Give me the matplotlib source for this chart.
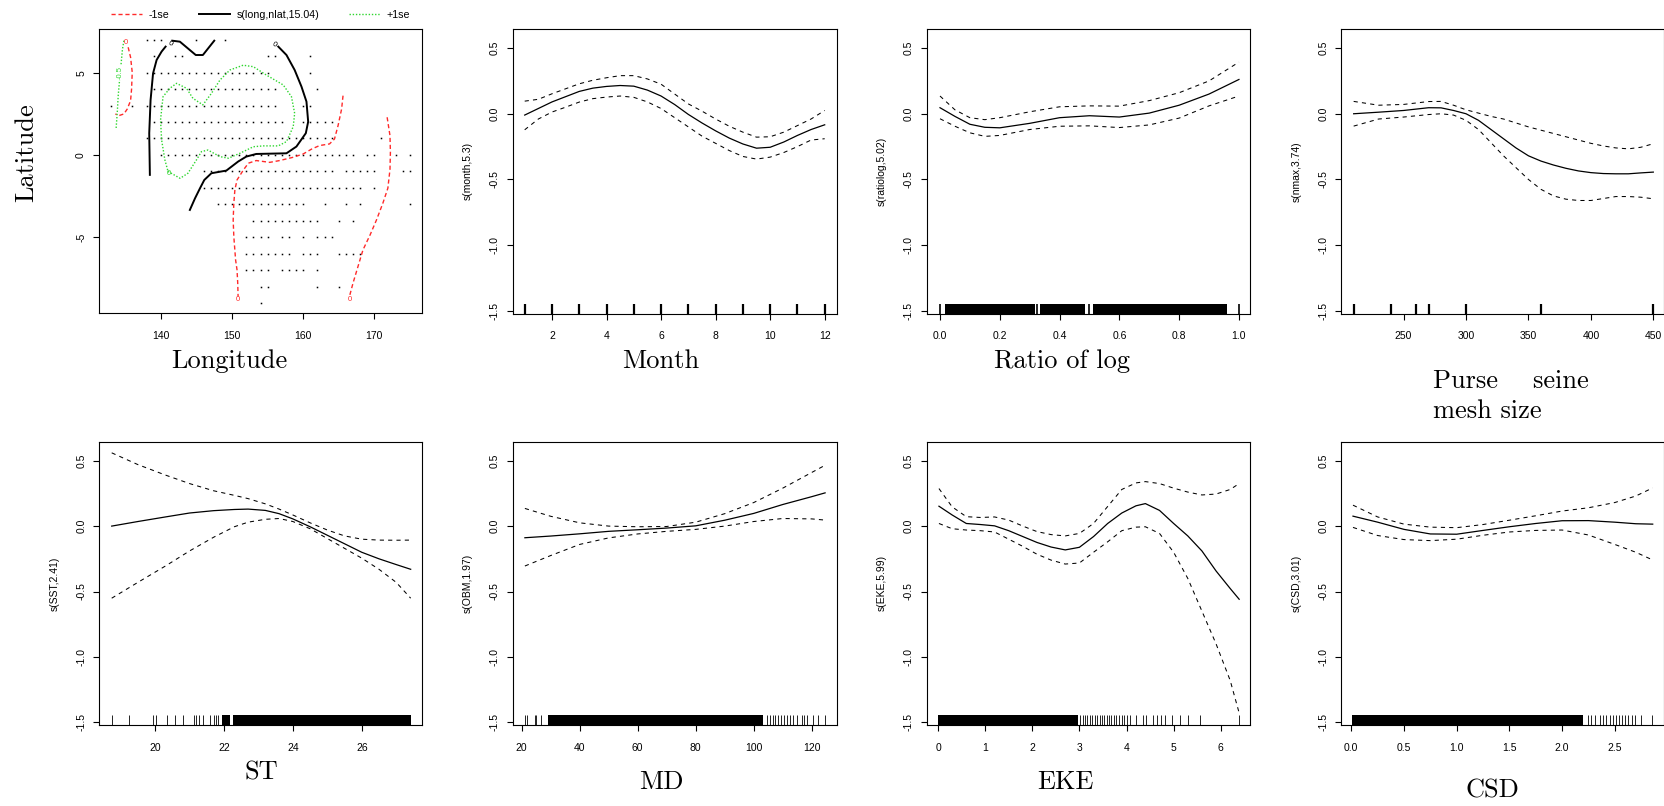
import matplotlib
matplotlib.use("Agg")
import matplotlib.pyplot as plt
from matplotlib.lines import Line2D

plt.rcParams["font.family"] = ["Liberation Sans", "DejaVu Sans"]
plt.rcParams["axes.unicode_minus"] = False

BIG = ["cmr10", "DejaVu Serif"]   # LaTeX-looking labels

# ---------------- smooth terms: x, fit, +1se, -1se ----------------
month_x = [1, 1.5, 2, 2.5, 3, 3.5, 4, 4.5, 5, 5.5, 6, 6.5, 7, 7.5, 8, 8.5, 9, 9.5, 10, 10.5, 11, 11.5, 12]
month_fit = [-0.01, 0.04, 0.09, 0.13, 0.17, 0.195, 0.208, 0.215, 0.21, 0.18, 0.135, 0.07, -0.005, -0.07,
             -0.13, -0.185, -0.23, -0.262, -0.255, -0.215, -0.165, -0.12, -0.084]
month_hi = [0.096, 0.11, 0.152, 0.19, 0.228, 0.255, 0.274, 0.29, 0.29, 0.265, 0.225, 0.15, 0.075, 0.02,
            -0.04, -0.095, -0.14, -0.178, -0.175, -0.14, -0.09, -0.04, 0.025]
month_lo = [-0.122, -0.04, 0.013, 0.05, 0.089, 0.115, 0.127, 0.135, 0.125, 0.09, 0.04, -0.03, -0.10, -0.17,
            -0.225, -0.28, -0.325, -0.345, -0.33, -0.295, -0.25, -0.2, -0.19]
month_rug = [1, 2, 3, 4, 5, 6, 7, 8, 9, 10, 11, 12]

ratio_x = [0, 0.05, 0.1, 0.15, 0.2, 0.3, 0.4, 0.5, 0.6, 0.7, 0.8, 0.9, 1.0]
ratio_fit = [0.046, -0.02, -0.08, -0.103, -0.107, -0.073, -0.03, -0.015, -0.025, 0.005, 0.065, 0.15, 0.261]
ratio_hi = [0.135, 0.03, -0.03, -0.045, -0.03, 0.015, 0.053, 0.06, 0.058, 0.1, 0.16, 0.25, 0.393]
ratio_lo = [-0.038, -0.095, -0.145, -0.172, -0.165, -0.12, -0.095, -0.092, -0.105, -0.085, -0.033, 0.06, 0.135]
ratio_rug = [0.0, 0.326, 0.499, 1.0]
ratio_rug_dense = [(0.017, 0.318), (0.334, 0.484), (0.513, 0.959)]

nmax_x = [210, 230, 250, 270, 280, 290, 300, 310, 320, 330, 340, 350, 360, 370, 380, 390, 400, 410, 420, 430, 440, 450]
nmax_fit = [0.0, 0.012, 0.025, 0.046, 0.045, 0.025, 0.0, -0.05, -0.12, -0.19, -0.26, -0.32, -0.36, -0.39,
            -0.415, -0.435, -0.448, -0.455, -0.457, -0.457, -0.45, -0.444]
nmax_hi = [0.094, 0.065, 0.071, 0.093, 0.094, 0.065, 0.03, 0.005, -0.02, -0.04, -0.07, -0.1, -0.125, -0.15,
           -0.175, -0.2, -0.225, -0.245, -0.26, -0.267, -0.255, -0.228]
nmax_lo = [-0.094, -0.04, -0.025, -0.006, 0.0, -0.01, -0.05, -0.12, -0.22, -0.32, -0.41, -0.5, -0.575, -0.625,
           -0.65, -0.66, -0.66, -0.645, -0.63, -0.63, -0.635, -0.647]
nmax_rug = [210, 240, 260, 270, 300, 360, 450]

sst_x = [18.74, 19.5, 20.3, 21, 21.7, 22.3, 22.7, 23.2, 23.6, 24, 24.5, 25, 25.5, 26, 26.5, 27, 27.42]
sst_fit = [0.0, 0.035, 0.07, 0.1, 0.118, 0.127, 0.13, 0.12, 0.095, 0.055, -0.005, -0.07, -0.135, -0.2, -0.25, -0.294, -0.33]
sst_hi = [0.56, 0.47, 0.39, 0.325, 0.27, 0.235, 0.21, 0.17, 0.13, 0.085, 0.025, -0.03, -0.075, -0.1, -0.107, -0.108, -0.107]
sst_lo = [-0.551, -0.43, -0.305, -0.19, -0.085, -0.005, 0.03, 0.052, 0.058, 0.035, -0.02, -0.095, -0.17, -0.245, -0.33, -0.43, -0.551]
sst_rug = [18.74, 19.23, 19.93, 20.03, 20.34, 20.58, 20.82, 21.13, 21.2, 21.28, 21.4, 21.6, 21.7, 21.77, 21.84]
sst_rug_dense = [(21.93, 22.17), (22.27, 27.42)]

md_x = [21.1, 30, 40, 50, 60, 70, 80, 90, 100, 110, 120, 124.6]
md_fit = [-0.089, -0.076, -0.059, -0.04, -0.028, -0.015, 0.002, 0.045, 0.097, 0.165, 0.225, 0.254]
md_hi = [0.135, 0.075, 0.025, 0.0, -0.005, -0.003, 0.03, 0.095, 0.18, 0.29, 0.41, 0.465]
md_lo = [-0.305, -0.225, -0.14, -0.09, -0.06, -0.04, -0.025, 0.0, 0.035, 0.058, 0.055, 0.046]
md_rug = [21.1, 21.9, 24.5, 25.1, 26.8, 104.5, 105.5, 106.5, 107.3, 108.2, 109.5, 110.5, 111.5, 112.5,
          113.7, 114.8, 116.5, 117.2, 118.3, 120.6, 122.3, 124.6]
md_rug_dense = [(29.1, 103.3)]

eke_x = [0.02, 0.3, 0.6, 0.9, 1.2, 1.5, 1.8, 2.1, 2.4, 2.7, 3.0, 3.3, 3.6, 3.9, 4.2, 4.4, 4.7, 5.0, 5.3, 5.6, 5.9, 6.2, 6.39]
eke_fit = [0.152, 0.085, 0.02, 0.012, 0.002, -0.035, -0.08, -0.125, -0.16, -0.182, -0.162, -0.08, 0.02, 0.1,
           0.155, 0.172, 0.12, 0.02, -0.075, -0.19, -0.343, -0.477, -0.559]
eke_hi = [0.287, 0.147, 0.072, 0.066, 0.07, 0.046, 0.0, -0.042, -0.065, -0.075, -0.056, 0.02, 0.15, 0.28,
          0.33, 0.34, 0.325, 0.29, 0.26, 0.238, 0.245, 0.28, 0.325]
eke_lo = [0.02, -0.02, -0.03, -0.035, -0.045, -0.1, -0.155, -0.215, -0.26, -0.29, -0.282, -0.2, -0.12, -0.035,
          -0.008, -0.005, -0.056, -0.2, -0.4, -0.65, -0.9, -1.18, -1.428]
eke_rug = [3.02, 3.07, 3.12, 3.17, 3.22, 3.27, 3.33, 3.38, 3.43, 3.48, 3.53, 3.58, 3.63, 3.68, 3.73,
           3.78, 3.84, 3.9, 3.95, 4.0, 4.07, 4.21, 4.34, 4.42, 4.57, 4.64, 4.74, 4.81, 4.96, 5.13,
           5.31, 5.56, 6.39]
eke_rug_dense = [(0.0, 2.97)]

csd_x = [0.016, 0.25, 0.5, 0.75, 1.0, 1.25, 1.5, 1.75, 2.0, 2.25, 2.5, 2.7, 2.86]
csd_fit = [0.076, 0.03, -0.025, -0.06, -0.062, -0.033, -0.005, 0.02, 0.041, 0.042, 0.03, 0.018, 0.015]
csd_hi = [0.16, 0.07, 0.015, -0.008, -0.012, 0.012, 0.045, 0.079, 0.115, 0.14, 0.18, 0.23, 0.292]
csd_lo = [-0.01, -0.072, -0.103, -0.111, -0.1, -0.07, -0.045, -0.033, -0.03, -0.068, -0.14, -0.2, -0.259]
csd_rug = [2.246, 2.278, 2.31, 2.358, 2.389, 2.42, 2.45, 2.483, 2.515, 2.54, 2.573, 2.595, 2.627,
           2.66, 2.69, 2.753, 2.857]
csd_rug_dense = [(0.01, 2.2)]

# ---------------- spatial term: sampling grid and contour lines ----------------
dot_rows = {
    7: [138, 139, 140, 145, 149],
    6: [139, 142, 143, 155, 156, 161],
    5: list(range(138, 156)) + [161],
    4: list(range(139, 157)) + [162],
    3: [133, 136] + list(range(138, 157)) + [160, 161],
    2: list(range(139, 158)) + [160, 161, 162, 163, 164],
    1: list(range(138, 165)) + [171],
    0: list(range(140, 168)) + [169, 170, 173, 175],
    -1: list(range(146, 165)) + [166, 167, 168, 169, 170, 174, 175],
    -2: list(range(146, 169)) + [170],
    -3: list(range(148, 161)) + [163, 166, 168, 175],
    -4: list(range(153, 163)) + [165, 167],
    -5: [152, 153, 154, 155, 157, 158, 160, 162, 163, 164],
    -6: [152, 153, 154, 155, 156, 157, 158, 160, 161, 162, 165, 166, 167, 168],
    -7: [152, 153, 154, 155, 157, 158, 159, 160, 162],
    -8: [154, 155, 162, 165],
    -9: [154],
}

fit_a_lon = [138.45, 138.36, 138.55, 138.9, 139.4, 140.1, 140.66]
fit_a_lat = [-1.21, 1.32, 3.34, 4.96, 5.77, 6.28, 6.58]
fit_b_lon = [141.6, 142.67, 144.9, 145.9, 147.5]
fit_b_lat = [6.94, 6.88, 6.07, 6.07, 6.94]
fit_c_lon = [156.5, 157.65, 158.8, 159.76, 160.46, 160.7, 160.37, 159.05, 157.65, 153.4, 152.0, 150.86,
             149.2, 147.1, 146.1, 145.5, 144.8, 144.07]
fit_c_lat = [6.58, 6.07, 5.16, 4.15, 3.24, 2.02, 1.32, 0.51, 0.1, 0.06, -0.1, -0.4, -0.95, -1.11,
             -1.52, -2.02, -2.63, -3.34]

lo_a_lon = [135.4, 135.74, 135.97, 135.88, 135.74, 135.27, 134.8, 134.1, 133.6]
lo_a_lat = [6.54, 5.93, 5.02, 4.01, 3.30, 2.79, 2.49, 2.39, 2.49]
lo_b_lon = [165.6, 165.4, 164.9, 164.4, 163.7, 162.3, 161.2, 160.0, 158.6, 156.7, 155.3, 153.4, 152.3,
            151.6, 150.7, 150.4, 150.25, 150.16, 150.25, 150.5, 150.7, 150.8, 150.85]
lo_b_lat = [3.6, 2.79, 1.78, 0.97, 0.67, 0.57, 0.36, 0.06, -0.14, -0.34, -0.45, -0.34, -0.5, -0.91,
            -1.52, -2.12, -2.93, -3.95, -4.96, -6.38, -6.98, -7.79, -8.6]
lo_c_lon = [171.8, 172.2, 172.26, 172.2, 171.9, 171.2, 170.3, 169.4, 168.4, 167.7, 167.0, 166.5]
lo_c_lat = [2.29, 1.17, 0.16, -0.88, -2.02, -2.93, -3.95, -4.86, -5.77, -6.78, -7.79, -8.6]

hi_a_lon = [134.8, 134.6, 134.2, 134.0, 133.87, 133.7]
hi_a_lat = [6.94, 6.43, 4.6, 3.6, 2.59, 1.58]
hi_b_lon = [141.0, 142.7, 143.8, 145.0, 145.7, 146.6, 148.3, 149.5, 151.1, 153.0, 154.4, 156.5, 157.65,
            158.6, 158.8, 158.35, 157.2, 154.8, 153.0, 151.56, 149.7, 148.3, 147.1, 145.9, 144.5, 143.6,
            142.2, 141.26, 140.3, 139.95, 140.1, 140.56, 141.0]
hi_b_lat = [-1.0, -1.42, -1.11, -0.3, 0.2, 0.3, -0.1, -0.2, 0.1, 0.5, 0.55, 0.55, 0.81, 1.72, 2.53, 3.54,
            4.25, 4.86, 5.36, 5.45, 5.16, 4.55, 3.74, 3.04, 3.44, 4.05, 4.35, 4.05, 3.54, 2.13, 0.91, -0.3, -1.0]

W, H = 1665, 806
fig = plt.figure(figsize=(W / 100, H / 100), dpi=100)


def box(left, top, right, bottom):
    return fig.add_axes([left / W, 1 - bottom / H, (right - left) / W, (bottom - top) / H])


def frame(ax):
    for s in ax.spines.values():
        s.set_linewidth(0.8)
    ax.tick_params(direction="out", length=4.3, width=0.8, labelsize=7.5)
    ax.tick_params(axis="x", pad=8.5)
    ax.tick_params(axis="y", pad=5)


def term(ax, x, fit, hi, lo, xlim, xticks, fmt, ylab, rug, dense=(), rug_lw=0.6):
    ax.plot(x, fit, color="black", lw=0.9)
    ax.plot(x, hi, color="black", lw=0.75, ls=(0, (4, 4)))
    ax.plot(x, lo, color="black", lw=0.75, ls=(0, (4, 4)))
    tr = ax.get_xaxis_transform()
    ax.vlines(rug, 0, 0.035, transform=tr, color="black", lw=rug_lw)
    for a, b in dense:
        ax.axvspan(a, b, ymin=0, ymax=0.035, color="black", lw=0)
    ax.set_xlim(*xlim)
    ax.set_ylim(-1.52, 0.645)
    ax.set_xticks(xticks, [fmt.format(v) for v in xticks])
    ax.set_yticks([-1.5, -1.0, -0.5, 0.0, 0.5], ["-1.5", "-1.0", "-0.5", "0.0", "0.5"], rotation=90, va="center")
    ax.text(-0.138, 0.5, ylab, rotation=90, transform=ax.transAxes, ha="center", va="center", fontsize=7.5)
    frame(ax)


# ---- map of s(long, nlat) ----
m = box(99, 29, 422, 313)
for lat, lons in dot_rows.items():
    m.plot(lons, [lat] * len(lons), ls="none", marker="s", ms=1.1, mew=0, color="black")
red, green = "#ff2a2a", "#2fd62f"
for lo_, la_ in [(fit_a_lon, fit_a_lat), (fit_b_lon, fit_b_lat), (fit_c_lon, fit_c_lat)]:
    m.plot(lo_, la_, color="black", lw=1.4)
for lo_, la_ in [(lo_a_lon, lo_a_lat), (lo_b_lon, lo_b_lat), (lo_c_lon, lo_c_lat)]:
    m.plot(lo_, la_, color=red, lw=1.0, ls=(0, (3, 2)))
for lo_, la_ in [(hi_a_lon, hi_a_lat), (hi_b_lon, hi_b_lat)]:
    m.plot(lo_, la_, color=green, lw=1.0, ls=(0, (1, 1.3)))
lab = dict(fontsize=5.5, ha="center", va="center")
m.text(141.25, 6.75, "0", color="black", rotation=-30, **lab)
m.text(156.0, 6.72, "0", color="black", rotation=-30, **lab)
m.text(135.1, 6.82, "0", color=red, **lab)
m.text(150.8, -8.8, "0", color=red, **lab)
m.text(166.6, -8.78, "0", color=red, **lab)
m.text(141.15, -1.1, "0", color=green, **lab)
m.text(134.3, 5.0, "-0.5", color=green, rotation=90, bbox=dict(fc="white", ec="none", pad=0.3), **lab)
m.set_xlim(131.3, 176.7)
m.set_ylim(-9.6, 7.65)
m.set_xticks([140, 150, 160, 170])
m.set_yticks([-5, 0, 5], ["-5", "0", "5"], rotation=90, va="center")
frame(m)
handles = [Line2D([], [], color=red, lw=1.0, ls=(0, (3, 2))),
           Line2D([], [], color="black", lw=1.4),
           Line2D([], [], color=green, lw=1.0, ls=(0, (1, 1.3)))]
m.legend(handles, ["-1se", "s(long,nlat,15.04)", "+1se"], ncol=3, frameon=False, fontsize=7.7,
         loc="center left", bbox_to_anchor=((111 - 99) / 323, 1 + 14 / 284), borderpad=0, borderaxespad=0,
         handlelength=2.9, handletextpad=0.6, columnspacing=2.8)

# ---- one-dimensional terms ----
top, bot = (29, 313.5), (441.7, 725)
cols = [(99.3, 421.7), (512.7, 836.7), (926.7, 1250), (1341.3, 1664.3)]

ax = box(cols[1][0], top[0], cols[1][1], top[1])
term(ax, month_x, month_fit, month_hi, month_lo, (0.56, 12.44), [2, 4, 6, 8, 10, 12], "{:d}",
     "s(month,5.3)", month_rug, rug_lw=1.6)

ax = box(cols[2][0], top[0], cols[2][1], top[1])
term(ax, ratio_x, ratio_fit, ratio_hi, ratio_lo, (-0.0445, 1.037), [0.0, 0.2, 0.4, 0.6, 0.8, 1.0], "{:.1f}",
     "s(ratiolog,5.02)", ratio_rug, ratio_rug_dense, rug_lw=1.2)

ax = box(cols[3][0], top[0], cols[3][1], top[1])
term(ax, nmax_x, nmax_fit, nmax_hi, nmax_lo, (200.1, 458.8), [250, 300, 350, 400, 450], "{:d}",
     "s(nmax,3.74)", nmax_rug, rug_lw=1.6)

ax = box(cols[0][0], bot[0], cols[0][1], bot[1])
term(ax, sst_x, sst_fit, sst_hi, sst_lo, (18.38, 27.74), [20, 22, 24, 26], "{:d}",
     "s(SST,2.41)", sst_rug, sst_rug_dense)

ax = box(cols[1][0], bot[0], cols[1][1], bot[1])
term(ax, md_x, md_fit, md_hi, md_lo, (16.9, 128.6), [20, 40, 60, 80, 100, 120], "{:d}",
     "s(OBM,1.97)", md_rug, md_rug_dense)

ax = box(cols[2][0], bot[0], cols[2][1], bot[1])
term(ax, eke_x, eke_fit, eke_hi, eke_lo, (-0.24, 6.62), [0, 1, 2, 3, 4, 5, 6], "{:d}",
     "s(EKE,5.99)", eke_rug, eke_rug_dense)

ax = box(cols[3][0], bot[0], cols[3][1], bot[1])
term(ax, csd_x, csd_fit, csd_hi, csd_lo, (-0.095, 2.97), [0.0, 0.5, 1.0, 1.5, 2.0, 2.5], "{:.1f}",
     "s(CSD,3.01)", csd_rug, csd_rug_dense)

# ---- big axis titles ----
big = dict(fontsize=19, family=BIG, ha="center", va="center")
fig.text(26 / W, 1 - 153 / H, "Latitude", rotation=90, **big)
fig.text(229.5 / W, 1 - 361 / H, "Longitude", **big)
fig.text(661 / W, 1 - 361 / H, "Month", **big)
fig.text(1062 / W, 1 - 361 / H, "Ratio of log", **big)
fig.text(1433 / W, 1 - 388 / H, "Purse    seine", fontsize=19, family=BIG, ha="left", va="baseline")
fig.text(1433 / W, 1 - 418 / H, "mesh size", fontsize=19, family=BIG, ha="left", va="baseline")
fig.text(261.7 / W, 1 - 773 / H, "ST", **big)
fig.text(661.7 / W, 1 - 782 / H, "MD", **big)
fig.text(1065 / W, 1 - 782 / H, "EKE", **big)
fig.text(1492 / W, 1 - 791 / H, "CSD", **big)

fig.savefig("out.png", dpi=100)
